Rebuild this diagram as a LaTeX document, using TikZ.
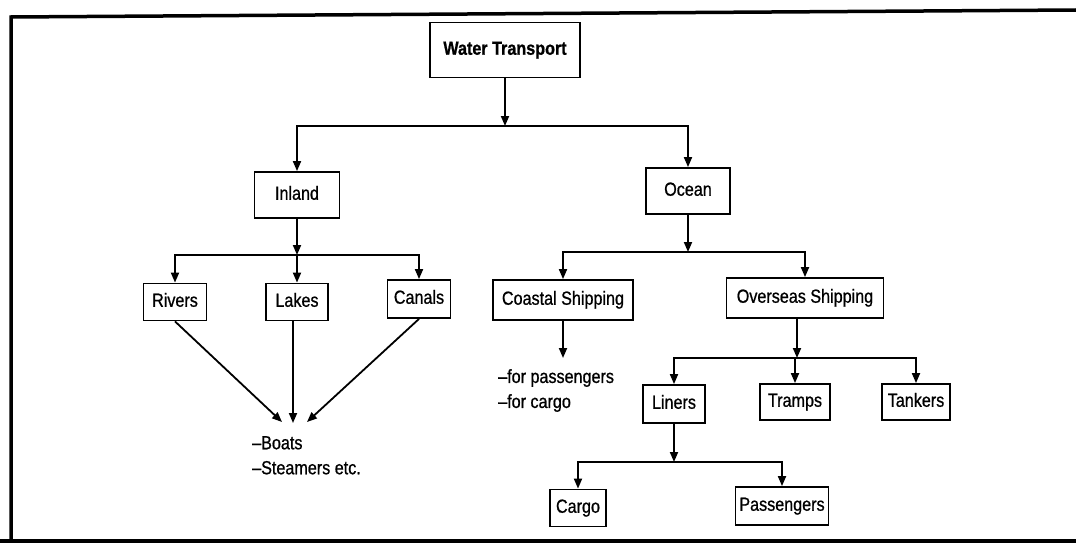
\documentclass[tikz,border=0pt]{standalone}
\usepackage{fontspec}
\setmainfont{Liberation Sans}[FakeStretch=0.85,FakeBold=0.8]
\usetikzlibrary{arrows.meta}
\begin{document}
\begin{tikzpicture}[x=1pt,y=-1pt,
  box/.style={draw=black,line width=1.8pt,fill=white,inner sep=2pt,font=\fontsize{19}{21}\selectfont,text height=13.5pt,text depth=4pt},
  arr/.style={line width=1.8pt,-{Triangle[length=10pt,width=8pt]}},
  note/.style={font=\fontsize{19}{25}\selectfont,align=left,inner sep=0pt,anchor=north west}]
\useasboundingbox (0,0) rectangle (1076,543);
\fill[white] (0,0) rectangle (1076,543);
% frame
\draw[line width=3.5pt] (11,543) -- (11,17) -- (1076,10);
\draw[line width=3.5pt] (0,541) -- (1076,541);
% nodes
\node[box,minimum width=150pt,minimum height=55pt,font=\bfseries\fontsize{19}{21}\selectfont] (wt) at (505,50) {Water Transport};
\node[box,minimum width=85pt,minimum height=46pt] (inland) at (297,195) {Inland};
\node[box,minimum width=84pt,minimum height=46pt] (ocean) at (688,191) {Ocean};
\node[box,minimum width=63pt,minimum height=37pt] (rivers) at (175,302) {Rivers};
\node[box,minimum width=62pt,minimum height=37pt] (lakes) at (297,302) {Lakes};
\node[box,minimum width=63pt,minimum height=38pt] (canals) at (419,299) {Canals};
\node[box,minimum width=140pt,minimum height=40pt] (coastal) at (563,300) {Coastal Shipping};
\node[box,minimum width=157pt,minimum height=40pt] (overseas) at (805,298) {Overseas Shipping};
\node[box,minimum width=62pt,minimum height=38pt] (liners) at (674,404) {Liners};
\node[box,minimum width=70pt,minimum height=36pt] (tramps) at (795,402) {Tramps};
\node[box,minimum width=68pt,minimum height=36pt] (tankers) at (916,402) {Tankers};
\node[box,minimum width=56pt,minimum height=37pt] (cargo) at (578,508) {Cargo};
\node[box,minimum width=93pt,minimum height=38pt] (passengers) at (782,506) {Passengers};
\node[note] (boats) at (252,436) {–Boats\\–Steamers etc.};
\node[note] (forp) at (498,369) {–for passengers\\–for cargo};
% junction coordinates
\coordinate (j1) at (505,126);
\coordinate (j2) at (297,255);
\coordinate (j3) at (688,252);
\coordinate (j4) at (797,358);
\coordinate (j5) at (674,462);
\coordinate (b1) at (282,422);
\coordinate (b2) at (293,423);
\coordinate (b3) at (307,422);
\coordinate (c1) at (563,358);
% connectors
\draw[arr] (wt.south) -- (j1);
\draw[arr] (j1) -| (inland.north);
\draw[arr] (j1) -| (ocean.north);
\draw[arr] (inland.south) -- (j2);
\draw[arr] (j2) -| (rivers.north);
\draw[arr] (j2) -- (lakes.north);
\draw[arr] (j2) -| (canals.north);
\draw[arr] (ocean.south) -- (j3);
\draw[arr] (j3) -| (coastal.north);
\draw[arr] (j3) -| (overseas.north);
\draw[arr] (overseas.south -| j4) -- (j4);
\draw[arr] (j4) -| (liners.north);
\draw[arr] (j4) -| (tramps.north);
\draw[arr] (j4) -| (tankers.north);
\draw[arr] (liners.south) -- (j5);
\draw[arr] (j5) -| (cargo.north);
\draw[arr] (j5) -| (passengers.north);
\draw[arr] (rivers.south) -- (b1);
\draw[arr] (lakes.south -| b2) -- (b2);
\draw[arr] (canals.south) -- (b3);
\draw[arr] (coastal.south) -- (c1);
\end{tikzpicture}
\end{document}
